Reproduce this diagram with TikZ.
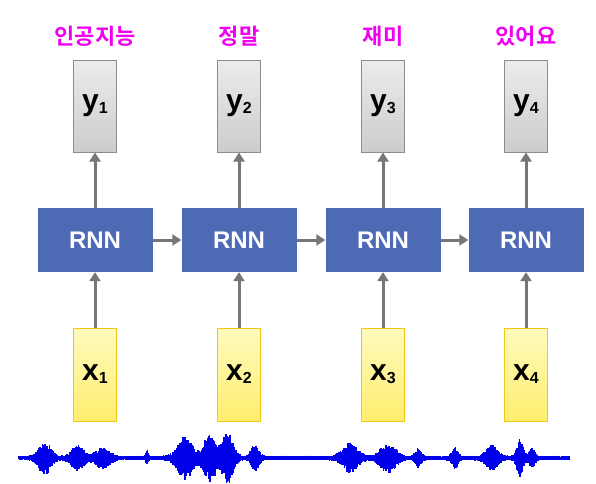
\documentclass[tikz,border=0pt]{standalone}
\usepackage{fontspec}
\setmainfont{Liberation Sans}
\newfontfamily\kr{Noto Sans CJK KR}[BoldFont={Noto Sans CJK KR Bold}]
\usetikzlibrary{arrows.meta}
\definecolor{rnnblue}{RGB}{79,106,180}
\definecolor{arrgray}{RGB}{118,118,118}
\definecolor{lbl}{RGB}{240,0,240}
\definecolor{wave}{RGB}{0,0,235}
\tikzset{
  rnn/.style={draw=none,fill=rnnblue,minimum width=115pt,minimum height=64pt,inner sep=0pt,
    text=white,font=\fontsize{24}{24}\selectfont\bfseries},
  ybox/.style={draw={rgb,255:red,140;green,140;blue,140},line width=1pt,top color={rgb,255:red,236;green,236;blue,236},
    bottom color={rgb,255:red,204;green,204;blue,204},minimum width=43pt,minimum height=92pt,inner sep=0pt},
  xbox/.style={draw={rgb,255:red,242;green,200;blue,20},line width=1pt,top color={rgb,255:red,255;green,250;blue,190},
    bottom color={rgb,255:red,255;green,238;blue,110},minimum width=43pt,minimum height=93pt,inner sep=0pt},
  klabel/.style={text=lbl,font=\kr\fontsize{22}{22}\selectfont\bfseries},
  conn/.style={draw=arrgray,line width=3pt,-{Triangle[length=9pt,width=11pt]}},
  wline/.style={draw=wave,line width=1.2pt},
  declare function={g(\t,\m,\s)=exp(-1*pow(min(abs(\t-\m)/\s,6),2));}
}
\newcommand{\ysym}[1]{{\fontsize{30}{30}\selectfont\bfseries y}{\fontsize{16}{16}\selectfont\bfseries\raisebox{-3pt}{#1}}}
\newcommand{\xsym}[1]{{\fontsize{30}{30}\selectfont\bfseries x}{\fontsize{16}{16}\selectfont\bfseries\raisebox{-3pt}{#1}}}
\begin{document}
\begin{tikzpicture}[x=1pt,y=-1pt]
\useasboundingbox (0,0) rectangle (596,483);
\fill[white] (0,0) rectangle (596,483);
% columns
\foreach \c/\xc/\lab in {1/95/인공지능,2/239/정말,3/383/재미,4/526/있어요}{
  \node[klabel] (l\c) at (\xc,36) {\lab};
  \node[ybox] (y\c) at (\xc,106) {\ysym{\c}};
  \node[rnn] (r\c) at (\xc,240) {RNN};
  \node[xbox] (x\c) at (\xc,374.5) {\xsym{\c}};
  \draw[conn] (x\c.north) -- (r\c.south);
  \draw[conn] (r\c.north) -- (y\c.south);
}
\draw[conn] (r1.east) -- (r2.west);
\draw[conn] (r2.east) -- (r3.west);
\draw[conn] (r3.east) -- (r4.west);
% waveform
\pgfmathsetseed{7}
\foreach \i in {0,...,1100}{
  \pgfmathsetmacro\xx{19+\i*0.5}
  \pgfmathsetmacro\env{2.4+15*g(\xx,45,8)+11*g(\xx,78,8)+9*g(\xx,103,9)+7*g(\xx,147,1.5)
    +20*g(\xx,185,10)+22*g(\xx,210,8)+24*g(\xx,228,7)+12*g(\xx,255,5)
    +13*g(\xx,350,10)+13*g(\xx,388,10)+8*g(\xx,418,4)+9*g(\xx,455,4)
    +11*g(\xx,492,8)+17*g(\xx,520,4)+8*g(\xx,532,4)}
  \pgfmathsetmacro\up{\env*(0.5+0.5*rnd)}
  \pgfmathsetmacro\dn{\env*(0.5+0.5*rnd)}
  \draw[wline] (\xx,458-\up) -- (\xx,458+\dn);
}
\end{tikzpicture}
\end{document}
